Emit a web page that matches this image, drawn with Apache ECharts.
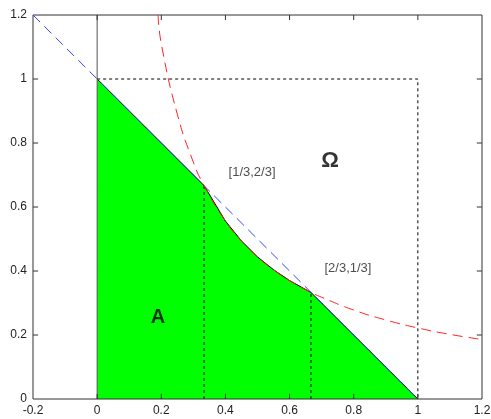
<!DOCTYPE html>
<html>
<head>
<meta charset="utf-8">
<script src="https://cdn.jsdelivr.net/npm/echarts@6/dist/echarts.min.js"></script>
<style>
  html, body { margin: 0; padding: 0; background: #fff; }
  #chart { width: 491px; height: 419px; }
</style>
</head>
<body>
<div id="chart"></div>
<script>
// x + y = 1 tangent line (blue dashed)
const lineX = [-0.2, 1.0]
const lineY = [1.2, 0.0]

// level curve through [1/3,2/3] and [2/3,1/3] (red dashed)
const curveX = [0.19, 0.2, 0.25, 0.3, 0.3333, 0.4, 0.45, 0.5, 0.55, 0.6, 0.6667, 0.7, 0.8, 0.9, 1.0, 1.1, 1.2]
const curveY = [1.2, 1.11, 0.89, 0.74, 0.667, 0.556, 0.494, 0.444, 0.404, 0.37, 0.333, 0.318, 0.278, 0.247, 0.222, 0.202, 0.186]

// boundary of the green region A
const regionX = [0, 0.3333, 0.4, 0.45, 0.5, 0.55, 0.6, 0.6667, 1.0]
const regionY = [1.0, 0.667, 0.556, 0.494, 0.444, 0.404, 0.37, 0.333, 0.0]

// dotted guides: unit square and the two verticals
const boxX = [0, 1, 1]
const boxY = [1, 1, 0]
const guideX = [0.3333, 0.6667]
const guideTop = [0.667, 0.333]

// tick values
const xTickVals = [-0.2, 0, 0.2, 0.4, 0.6, 0.8, 1.0, 1.2]
const yTickVals = [0, 0.2, 0.4, 0.6, 0.8, 1.0, 1.2]

// text annotations
const notes = ['[1/3,2/3]', '[2/3,1/3]', 'Ω', 'A']

const X0 = -0.2, X1 = 1.2, Y0 = 0, Y1 = 1.2
const TX = 0.016, TY = 0.016 // inward tick length in data units (~5px)

const zip = (xs, ys) => xs.map((x, i) => [x, ys[i]])

const chart = echarts.init(document.getElementById('chart'))

const axisLabel = { color: '#222', fontSize: 12, fontFamily: 'Liberation Sans, Arial, sans-serif' }
const seg = (data, color, type, z) => ({
  type: 'line', data, symbol: 'none', clip: false, silent: true, z: z || 3,
  lineStyle: { color, width: 1, type: type || 'solid' }
})

// frame and inward ticks on all four sides, from the tick arrays
const frameSeries = [seg([[X0, Y0], [X0, Y1], [X1, Y1], [X1, Y0], [X0, Y0]], '#333')]
const tickSeries = [
  ...xTickVals.slice(1, -1).flatMap(x => [
    seg([[x, Y0], [x, Y0 + TY]], '#333'),
    seg([[x, Y1], [x, Y1 - TY]], '#333')
  ]),
  ...yTickVals.slice(1, -1).flatMap(y => [
    seg([[X0, y], [X0 + TX, y]], '#333'),
    seg([[X1, y], [X1 - TX, y]], '#333')
  ])
]

chart.setOption({
  animation: false,
  grid: { left: 33, right: 9, top: 15, bottom: 20, outerBoundsMode: 'none' },
  xAxis: {
    type: 'value', min: X0, max: X1, interval: 0.2,
    axisLine: { show: false }, axisTick: { show: false }, splitLine: { show: false },
    axisLabel: { ...axisLabel, margin: 6 }
  },
  yAxis: {
    type: 'value', min: Y0, max: Y1, interval: 0.2,
    axisLine: { show: false }, axisTick: { show: false }, splitLine: { show: false },
    axisLabel: { ...axisLabel, margin: 6 }
  },
  series: [
    {
      name: 'A',
      type: 'line',
      data: zip(regionX, regionY),
      symbol: 'none',
      lineStyle: { color: '#000', width: 1 },
      areaStyle: { color: '#00ff00', opacity: 1, origin: 'start' },
      z: 2
    },
    seg(zip(boxX, boxY), '#000', [3, 3]),
    ...guideX.map((x, i) => seg([[x, 0], [x, guideTop[i]]], '#000', [3, 3])),
    seg([[0, Y0], [0, Y1]], '#555'),
    ...frameSeries,
    ...tickSeries,
    {
      type: 'line',
      data: zip(lineX, lineY),
      symbol: 'none',
      lineStyle: { color: '#3344ff', width: 1, type: [10, 6] },
      z: 4
    },
    {
      type: 'line',
      data: zip(curveX, curveY),
      symbol: 'none',
      smooth: true,
      lineStyle: { color: '#ff2222', width: 1, type: [10, 6] },
      z: 4
    },
    {
      type: 'scatter',
      symbolSize: 1,
      itemStyle: { color: 'rgba(0,0,0,0)' },
      silent: true,
      z: 5,
      label: { show: true, position: 'inside', color: '#222', fontSize: 13,
        fontFamily: 'Liberation Sans, Arial, sans-serif' },
      data: [
        { value: [0.483, 0.709], label: { formatter: notes[0] } },
        { value: [0.782, 0.409], label: { formatter: notes[1] } },
        { value: [0.726, 0.745], label: { formatter: notes[2], fontSize: 22, color: '#000',
          fontWeight: 'bold', fontFamily: 'Liberation Sans, Arial, sans-serif' } },
        { value: [0.19, 0.256], label: { formatter: notes[3], fontSize: 20, color: '#000',
          fontWeight: 'bold', fontFamily: 'Liberation Sans, Arial, sans-serif' } }
      ]
    }
  ]
})
</script>
</body>
</html>
